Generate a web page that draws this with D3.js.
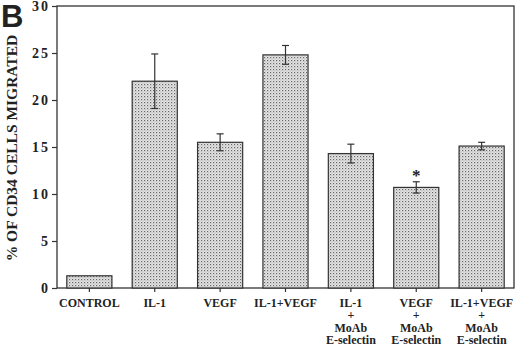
<!DOCTYPE html>
<html>
<head>
<meta charset="utf-8">
<script src="https://cdn.jsdelivr.net/npm/d3@7"></script>
<style>
  body { margin: 0; background: #fff; }
  svg { display: block; }
  text { font-family: "Liberation Serif", "Times New Roman", serif; font-weight: bold; fill: #222; }
</style>
</head>
<body>
<svg width="520" height="347"></svg>
<script>
// data
const categories = ["CONTROL", "IL-1", "VEGF", "IL-1+VEGF", "IL-1 MoAb", "VEGF MoAb", "IL-1+VEGF MoAb"];
const labelLines = [
  ["CONTROL"], ["IL-1"], ["VEGF"], ["IL-1+VEGF"],
  ["IL-1", "+", "MoAb", "E-selectin"],
  ["VEGF", "+", "MoAb", "E-selectin"],
  ["IL-1+VEGF", "+", "MoAb", "E-selectin"]
];
const values = [1.3, 22.0, 15.5, 24.8, 14.3, 10.7, 15.1];
const errors = [0, 2.9, 0.9, 1.0, 1.0, 0.6, 0.4];
const significant = [false, false, false, false, false, true, false];
const yTicks = [0, 5, 10, 15, 20, 25, 30];

const svg = d3.select("svg");
const margin = { top: 6, right: 6, bottom: 59, left: 57 };
const width = 520 - margin.left - margin.right;
const height = 347 - margin.top - margin.bottom;

// stipple fill for bars
const defs = svg.append("defs");
const pat = defs.append("pattern")
  .attr("id", "dots")
  .attr("width", 3).attr("height", 3)
  .attr("patternUnits", "userSpaceOnUse");
pat.append("rect").attr("width", 3).attr("height", 3).attr("fill", "#e6e6e6");
pat.append("rect").attr("x", 0).attr("y", 0).attr("width", 1.2).attr("height", 1.2).attr("fill", "#666");
pat.append("rect").attr("x", 1.5).attr("y", 1.5).attr("width", 1).attr("height", 1).attr("fill", "#999");

const g = svg.append("g").attr("transform", `translate(${margin.left},${margin.top})`);

const x = d3.scaleBand().domain(categories).range([0, width]).paddingInner(0.31).paddingOuter(0.15);
const y = d3.scaleLinear().domain([0, 30]).range([height, 0]);

// frame
g.append("rect")
  .attr("width", width).attr("height", height)
  .attr("fill", "none").attr("stroke", "#333").attr("stroke-width", 1.3);

// bars
g.selectAll("rect.bar")
  .data(values)
  .join("rect")
  .attr("class", "bar")
  .attr("x", (d, i) => x(categories[i]))
  .attr("y", d => y(d))
  .attr("width", x.bandwidth())
  .attr("height", d => y(0) - y(d))
  .attr("fill", "url(#dots)")
  .attr("stroke", "#333")
  .attr("stroke-width", 1.2);

// error bars
const cx = i => x(categories[i]) + x.bandwidth() / 2;
const eb = g.append("g").attr("stroke", "#333").attr("stroke-width", 1.2);
values.forEach((v, i) => {
  if (!errors[i]) return;
  const t = y(v + errors[i]), b = y(v - errors[i]);
  eb.append("line").attr("x1", cx(i)).attr("x2", cx(i)).attr("y1", t).attr("y2", b);
  eb.append("line").attr("x1", cx(i) - 3.5).attr("x2", cx(i) + 3.5).attr("y1", t).attr("y2", t);
  eb.append("line").attr("x1", cx(i) - 3.5).attr("x2", cx(i) + 3.5).attr("y1", b).attr("y2", b);
});

// significance star
values.forEach((v, i) => {
  if (!significant[i]) return;
  g.append("text")
    .attr("x", cx(i))
    .attr("y", y(v + errors[i]) - 1)
    .attr("text-anchor", "middle")
    .attr("font-size", 17)
    .text("*");
});

// y axis
const yAxis = g.append("g")
  .call(d3.axisLeft(y).tickValues(yTicks).tickSize(5).tickFormat(d => String(d)));
yAxis.select(".domain").remove();
yAxis.selectAll("line").attr("stroke", "#333").attr("stroke-width", 1.2);
yAxis.selectAll("text")
  .attr("x", -7)
  .style("font-family", "Liberation Serif")
  .style("font-weight", "bold")
  .style("font-size", "14px")
  .style("letter-spacing", "2px");

// x axis
const xAxis = g.append("g")
  .attr("transform", `translate(0,${height})`)
  .call(d3.axisBottom(x).tickSize(4).tickFormat(""));
xAxis.select(".domain").remove();
xAxis.selectAll("line").attr("stroke", "#333").attr("stroke-width", 1.2);

const xl = g.append("g").attr("transform", `translate(0,${height})`);
labelLines.forEach((lines, i) => {
  lines.forEach((s, j) => {
    xl.append("text")
      .attr("x", cx(i))
      .attr("y", 19 + j * 12.4)
      .attr("text-anchor", "middle")
      .attr("font-size", 12)
      .text(s);
  });
});

// y title
svg.append("text")
  .attr("transform", `translate(17,${margin.top + 142}) rotate(-90)`)
  .attr("text-anchor", "middle")
  .attr("font-size", 15.5)
  .text("% OF CD34 CELLS MIGRATED");

// panel letter
svg.append("text")
  .attr("x", 1).attr("y", 27)
  .style("font-family", "Liberation Sans, Arial, sans-serif")
  .attr("font-size", 31)
  .attr("fill", "#111")
  .text("B");
</script>
</body>
</html>
